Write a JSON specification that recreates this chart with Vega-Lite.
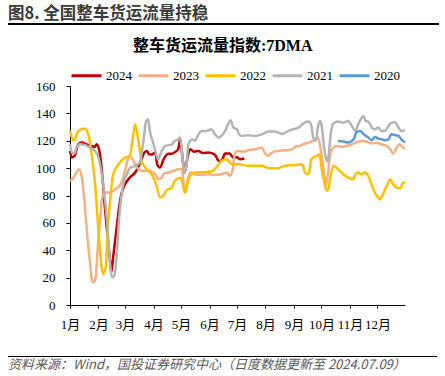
{
  "$schema": "https://vega.github.io/schema/vega-lite/v6.json",
  "background": "#ffffff",
  "padding": {"left": 8, "top": 5, "right": 5, "bottom": 0},
  "config": {
    "view": {"stroke": null},
    "axis": {"domainColor": "#000000", "tickColor": "#000000", "labelColor": "#000000", "labelFont": "Liberation Serif, Noto Sans CJK SC", "labelFontSize": 13, "grid": false}
  },
  "resolve": {"legend": {"color": "independent"}},
  "columns": 1,
  "spacing": 25,
  "align": "none",
  "concat": [
    {
      "resolve": {"legend": {"color": "independent"}},
      "columns": 1,
      "spacing": 13,
      "align": "none",
      "concat": [
        {
          "width": 431,
          "height": 2,
          "view": {"fill": "#000000", "stroke": null},
          "title": {"text": "图8. 全国整车货运流量持稳", "anchor": "start", "font": "Noto Sans CJK SC", "fontSize": 16.5, "fontWeight": "bold", "color": "#3a3a3a", "offset": 1},
          "data": {"values": []},
          "mark": {"type": "rule"},
          "encoding": {}
        },
        {
          "resolve": {"legend": {"color": "independent"}},
          "spacing": 10,
          "hconcat": [
            {
              "width": 17,
              "height": 219,
              "data": {"values": []},
              "mark": {"type": "rule"},
              "encoding": {}
            },
            {
              "width": 335,
              "height": 219,
              "title": {"text": "整车货运流量指数:7DMA", "anchor": "middle", "frame": "bounds", "font": "Liberation Serif, Noto Sans CJK SC", "fontSize": 16, "fontWeight": "bold", "color": "#000000", "offset": 5},
              "data": {"values": [
                {"year":"2024","day":1,"v":112.6},{"year":"2024","day":3,"v":107.7},{"year":"2024","day":6,"v":109},{"year":"2024","day":10,"v":117.4},{"year":"2024","day":14,"v":118.7},{"year":"2024","day":19,"v":117.4},{"year":"2024","day":25,"v":116},{"year":"2024","day":28,"v":115.5},{"year":"2024","day":30,"v":117.4},{"year":"2024","day":33,"v":112.6},{"year":"2024","day":35,"v":102.8},{"year":"2024","day":37,"v":88.2},{"year":"2024","day":39,"v":71.3},{"year":"2024","day":42,"v":49.4},{"year":"2024","day":45,"v":29.9},{"year":"2024","day":46,"v":23.8},{"year":"2024","day":48,"v":34.8},{"year":"2024","day":51,"v":51.8},{"year":"2024","day":54,"v":68.8},{"year":"2024","day":57,"v":81},{"year":"2024","day":61,"v":88.2},{"year":"2024","day":66,"v":93},{"year":"2024","day":72,"v":96.8},{"year":"2024","day":75,"v":100.4},{"year":"2024","day":79,"v":106.5},{"year":"2024","day":82,"v":111.4},{"year":"2024","day":85,"v":112.6},{"year":"2024","day":87,"v":110.1},{"year":"2024","day":90,"v":110},{"year":"2024","day":94,"v":111.4},{"year":"2024","day":96,"v":102.8},{"year":"2024","day":99,"v":100.4},{"year":"2024","day":103,"v":106.5},{"year":"2024","day":108,"v":110.5},{"year":"2024","day":112,"v":110.5},{"year":"2024","day":116,"v":112},{"year":"2024","day":119,"v":114},{"year":"2024","day":121,"v":121},{"year":"2024","day":124,"v":105},{"year":"2024","day":126,"v":96.8},{"year":"2024","day":129,"v":107.7},{"year":"2024","day":132,"v":113.8},{"year":"2024","day":136,"v":112},{"year":"2024","day":141,"v":112.6},{"year":"2024","day":146,"v":111},{"year":"2024","day":152,"v":111.4},{"year":"2024","day":159,"v":109.7},{"year":"2024","day":163,"v":105.3},{"year":"2024","day":166,"v":105.3},{"year":"2024","day":170,"v":110.6},{"year":"2024","day":175,"v":110.6},{"year":"2024","day":179,"v":107.7},{"year":"2024","day":183,"v":108},{"year":"2024","day":186,"v":106.5},{"year":"2024","day":191,"v":107},
                {"year":"2023","day":1,"v":90.7},{"year":"2023","day":5,"v":93},{"year":"2023","day":8,"v":96.8},{"year":"2023","day":11,"v":99.2},{"year":"2023","day":14,"v":93},{"year":"2023","day":17,"v":73.7},{"year":"2023","day":20,"v":49.4},{"year":"2023","day":23,"v":29.9},{"year":"2023","day":25,"v":17.8},{"year":"2023","day":27,"v":16.6},{"year":"2023","day":29,"v":20},{"year":"2023","day":31,"v":39.7},{"year":"2023","day":34,"v":64},{"year":"2023","day":36,"v":78.5},{"year":"2023","day":39,"v":82.2},{"year":"2023","day":45,"v":82.2},{"year":"2023","day":50,"v":84.6},{"year":"2023","day":55,"v":87},{"year":"2023","day":59,"v":93},{"year":"2023","day":63,"v":104},{"year":"2023","day":65,"v":109},{"year":"2023","day":68,"v":107.7},{"year":"2023","day":74,"v":100.4},{"year":"2023","day":79,"v":98},{"year":"2023","day":86,"v":98},{"year":"2023","day":94,"v":95.5},{"year":"2023","day":97,"v":91.9},{"year":"2023","day":101,"v":93},{"year":"2023","day":103,"v":96},{"year":"2023","day":108,"v":96.8},{"year":"2023","day":114,"v":98},{"year":"2023","day":119,"v":99.2},{"year":"2023","day":123,"v":99.2},{"year":"2023","day":125,"v":88.2},{"year":"2023","day":127,"v":82.2},{"year":"2023","day":129,"v":90.7},{"year":"2023","day":132,"v":96.8},{"year":"2023","day":137,"v":95.5},{"year":"2023","day":145,"v":95},{"year":"2023","day":152,"v":95.5},{"year":"2023","day":159,"v":95},{"year":"2023","day":166,"v":95.5},{"year":"2023","day":172,"v":96.8},{"year":"2023","day":175,"v":94.4},{"year":"2023","day":178,"v":98},{"year":"2023","day":181,"v":111.4},{"year":"2023","day":184,"v":112.6},{"year":"2023","day":190,"v":112},{"year":"2023","day":195,"v":113},{"year":"2023","day":203,"v":113.8},{"year":"2023","day":210,"v":115},{"year":"2023","day":213,"v":111.4},{"year":"2023","day":217,"v":109},{"year":"2023","day":221,"v":111.4},{"year":"2023","day":228,"v":112.6},{"year":"2023","day":235,"v":113},{"year":"2023","day":243,"v":113.8},{"year":"2023","day":248,"v":116.2},{"year":"2023","day":250,"v":116},{"year":"2023","day":255,"v":117.4},{"year":"2023","day":261,"v":118.7},{"year":"2023","day":266,"v":119.9},{"year":"2023","day":271,"v":122.3},{"year":"2023","day":273,"v":118},{"year":"2023","day":275,"v":110.1},{"year":"2023","day":277,"v":100.4},{"year":"2023","day":279,"v":90.7},{"year":"2023","day":280,"v":88.2},{"year":"2023","day":282,"v":95.5},{"year":"2023","day":284,"v":107.7},{"year":"2023","day":288,"v":115},{"year":"2023","day":292,"v":116.2},{"year":"2023","day":297,"v":115.5},{"year":"2023","day":302,"v":116.2},{"year":"2023","day":308,"v":117.4},{"year":"2023","day":313,"v":118.7},{"year":"2023","day":319,"v":119.9},{"year":"2023","day":324,"v":119.4},{"year":"2023","day":330,"v":118},{"year":"2023","day":335,"v":118.5},{"year":"2023","day":340,"v":117.4},{"year":"2023","day":346,"v":116.2},{"year":"2023","day":350,"v":113.8},{"year":"2023","day":353,"v":110.6},{"year":"2023","day":357,"v":115},{"year":"2023","day":360,"v":117.4},{"year":"2023","day":364,"v":115},{"year":"2023","day":366,"v":114},
                {"year":"2022","day":1,"v":127.2},{"year":"2022","day":5,"v":120},{"year":"2022","day":10,"v":127},{"year":"2022","day":17,"v":129},{"year":"2022","day":21,"v":124.7},{"year":"2022","day":24,"v":112.6},{"year":"2022","day":28,"v":90.7},{"year":"2022","day":32,"v":54.4},{"year":"2022","day":35,"v":29.9},{"year":"2022","day":37,"v":22.6},{"year":"2022","day":40,"v":27.5},{"year":"2022","day":42,"v":54.4},{"year":"2022","day":45,"v":78.5},{"year":"2022","day":48,"v":95.5},{"year":"2022","day":54,"v":102.8},{"year":"2022","day":61,"v":107.7},{"year":"2022","day":66,"v":108.5},{"year":"2022","day":70,"v":124.7},{"year":"2022","day":72,"v":132},{"year":"2022","day":75,"v":122.3},{"year":"2022","day":79,"v":105.3},{"year":"2022","day":83,"v":100.4},{"year":"2022","day":90,"v":95.5},{"year":"2022","day":95,"v":88.2},{"year":"2022","day":99,"v":78.5},{"year":"2022","day":103,"v":80},{"year":"2022","day":106,"v":83.6},{"year":"2022","day":112,"v":85.8},{"year":"2022","day":115,"v":90.7},{"year":"2022","day":121,"v":93},{"year":"2022","day":124,"v":88.2},{"year":"2022","day":126,"v":82.2},{"year":"2022","day":128,"v":87},{"year":"2022","day":132,"v":94.4},{"year":"2022","day":137,"v":96.8},{"year":"2022","day":145,"v":97},{"year":"2022","day":155,"v":97.5},{"year":"2022","day":163,"v":102.8},{"year":"2022","day":166,"v":105.3},{"year":"2022","day":172,"v":106.5},{"year":"2022","day":175,"v":104},{"year":"2022","day":179,"v":102.8},{"year":"2022","day":184,"v":103},{"year":"2022","day":195,"v":101.7},{"year":"2022","day":210,"v":101.7},{"year":"2022","day":217,"v":100},{"year":"2022","day":228,"v":100},{"year":"2022","day":235,"v":101.7},{"year":"2022","day":246,"v":102.3},{"year":"2022","day":253,"v":102.8},{"year":"2022","day":255,"v":101.7},{"year":"2022","day":257,"v":96.8},{"year":"2022","day":261,"v":95.5},{"year":"2022","day":264,"v":106.5},{"year":"2022","day":270,"v":109},{"year":"2022","day":273,"v":110.1},{"year":"2022","day":275,"v":100.4},{"year":"2022","day":277,"v":93},{"year":"2022","day":280,"v":84.6},{"year":"2022","day":282,"v":83.4},{"year":"2022","day":284,"v":90.7},{"year":"2022","day":288,"v":101.7},{"year":"2022","day":293,"v":99.2},{"year":"2022","day":299,"v":95.5},{"year":"2022","day":304,"v":93},{"year":"2022","day":310,"v":91.9},{"year":"2022","day":312,"v":95.5},{"year":"2022","day":315,"v":96.8},{"year":"2022","day":319,"v":95.5},{"year":"2022","day":322,"v":96.8},{"year":"2022","day":326,"v":94.4},{"year":"2022","day":330,"v":87},{"year":"2022","day":333,"v":82.2},{"year":"2022","day":337,"v":78.5},{"year":"2022","day":339,"v":77.3},{"year":"2022","day":342,"v":81},{"year":"2022","day":346,"v":87},{"year":"2022","day":350,"v":91.9},{"year":"2022","day":353,"v":88.2},{"year":"2022","day":357,"v":85.8},{"year":"2022","day":361,"v":85.3},{"year":"2022","day":364,"v":89.5},{"year":"2022","day":366,"v":89.5},
                {"year":"2021","day":1,"v":117.4},{"year":"2021","day":3,"v":111.4},{"year":"2021","day":6,"v":110.6},{"year":"2021","day":8,"v":115},{"year":"2021","day":12,"v":117.4},{"year":"2021","day":17,"v":117},{"year":"2021","day":23,"v":115},{"year":"2021","day":28,"v":112.6},{"year":"2021","day":32,"v":107.7},{"year":"2021","day":35,"v":98},{"year":"2021","day":38,"v":83.4},{"year":"2021","day":41,"v":64},{"year":"2021","day":43,"v":47},{"year":"2021","day":45,"v":27.5},{"year":"2021","day":47,"v":20.2},{"year":"2021","day":49,"v":21},{"year":"2021","day":52,"v":37.2},{"year":"2021","day":54,"v":59.1},{"year":"2021","day":56,"v":73.7},{"year":"2021","day":59,"v":88.2},{"year":"2021","day":63,"v":95.5},{"year":"2021","day":66,"v":100},{"year":"2021","day":72,"v":101.7},{"year":"2021","day":77,"v":104.1},{"year":"2021","day":81,"v":119.9},{"year":"2021","day":84,"v":134.5},{"year":"2021","day":86,"v":135.7},{"year":"2021","day":88,"v":127.2},{"year":"2021","day":92,"v":117.4},{"year":"2021","day":95,"v":110.1},{"year":"2021","day":97,"v":106.5},{"year":"2021","day":101,"v":112.6},{"year":"2021","day":105,"v":116.2},{"year":"2021","day":112,"v":117.4},{"year":"2021","day":115,"v":119.9},{"year":"2021","day":119,"v":121},{"year":"2021","day":121,"v":122.3},{"year":"2021","day":124,"v":105.3},{"year":"2021","day":126,"v":96.8},{"year":"2021","day":128,"v":102.8},{"year":"2021","day":130,"v":117.4},{"year":"2021","day":134,"v":121},{"year":"2021","day":137,"v":120},{"year":"2021","day":141,"v":124.7},{"year":"2021","day":144,"v":127.2},{"year":"2021","day":150,"v":127.2},{"year":"2021","day":155,"v":128.4},{"year":"2021","day":159,"v":124.7},{"year":"2021","day":163,"v":122.3},{"year":"2021","day":166,"v":123.5},{"year":"2021","day":170,"v":127.2},{"year":"2021","day":174,"v":133.2},{"year":"2021","day":176,"v":134.9},{"year":"2021","day":179,"v":129.6},{"year":"2021","day":183,"v":128.4},{"year":"2021","day":185,"v":124.7},{"year":"2021","day":188,"v":123.5},{"year":"2021","day":195,"v":124},{"year":"2021","day":203,"v":123.5},{"year":"2021","day":210,"v":124.7},{"year":"2021","day":217,"v":126.7},{"year":"2021","day":224,"v":126.7},{"year":"2021","day":232,"v":125},{"year":"2021","day":239,"v":127.2},{"year":"2021","day":244,"v":128.4},{"year":"2021","day":250,"v":129.6},{"year":"2021","day":255,"v":132.5},{"year":"2021","day":261,"v":134},{"year":"2021","day":264,"v":131},{"year":"2021","day":266,"v":122.3},{"year":"2021","day":269,"v":119.9},{"year":"2021","day":271,"v":129.6},{"year":"2021","day":273,"v":134.5},{"year":"2021","day":275,"v":132},{"year":"2021","day":277,"v":119.9},{"year":"2021","day":279,"v":110.1},{"year":"2021","day":281,"v":104.8},{"year":"2021","day":283,"v":110.1},{"year":"2021","day":285,"v":124.7},{"year":"2021","day":288,"v":132.5},{"year":"2021","day":293,"v":134},{"year":"2021","day":299,"v":133.2},{"year":"2021","day":304,"v":134.5},{"year":"2021","day":308,"v":130.8},{"year":"2021","day":312,"v":127.2},{"year":"2021","day":315,"v":132},{"year":"2021","day":319,"v":136.9},{"year":"2021","day":321,"v":138.1},{"year":"2021","day":323,"v":134.5},{"year":"2021","day":326,"v":134},{"year":"2021","day":330,"v":129.6},{"year":"2021","day":333,"v":128.4},{"year":"2021","day":337,"v":129.6},{"year":"2021","day":340,"v":127.2},{"year":"2021","day":344,"v":127.2},{"year":"2021","day":348,"v":130.8},{"year":"2021","day":351,"v":133.2},{"year":"2021","day":355,"v":133.5},{"year":"2021","day":359,"v":129.6},{"year":"2021","day":362,"v":127.2},{"year":"2021","day":366,"v":127.7},
                {"year":"2020","day":293,"v":119.9},{"year":"2020","day":299,"v":119.4},{"year":"2020","day":304,"v":118.7},{"year":"2020","day":310,"v":121},{"year":"2020","day":313,"v":126},{"year":"2020","day":317,"v":127.2},{"year":"2020","day":321,"v":124.7},{"year":"2020","day":326,"v":122.3},{"year":"2020","day":330,"v":120.4},{"year":"2020","day":333,"v":122.8},{"year":"2020","day":337,"v":121.5},{"year":"2020","day":341,"v":121},{"year":"2020","day":344,"v":120.4},{"year":"2020","day":348,"v":121},{"year":"2020","day":351,"v":124.7},{"year":"2020","day":355,"v":124.2},{"year":"2020","day":359,"v":123.5},{"year":"2020","day":362,"v":121},{"year":"2020","day":366,"v":118.7}
              ]},
              "mark": {"type": "line", "strokeWidth": 2.5, "interpolate": "monotone"},
              "encoding": {
                "x": {"field": "day", "type": "quantitative", "scale": {"domain": [1, 366], "nice": false, "zero": false},
                      "axis": {"title": null, "values": [1,32,61,92,122,153,183,214,245,275,306,336], "labelExpr": "(indexof([1,32,61,92,122,153,183,214,245,275,306,336], datum.value) + 1) + '月'", "tickSize": 3, "labelPadding": 10, "labelFlush": false, "labelOverlap": false, "labelBound": false}},
                "y": {"field": "v", "type": "quantitative", "scale": {"domain": [0, 160], "nice": false},
                      "axis": {"title": null, "values": [0,20,40,60,80,100,120,140,160], "tickSize": 4, "labelPadding": 11, "labelFlush": false}},
                "color": {"field": "year", "type": "nominal",
                          "scale": {"domain": ["2024","2023","2022","2021","2020"], "range": ["#C00000","#F4B183","#FFC000","#B4B4B4","#5B9BD5"]},
                          "legend": {"orient": "top", "direction": "horizontal", "title": null, "symbolType": "stroke", "symbolSize": 900, "symbolStrokeWidth": 3, "labelFont": "Liberation Serif", "labelFontSize": 13, "labelColor": "#000000", "labelOffset": 3, "columnPadding": 0, "offset": 3}}
              }
            }
          ]
        }
      ]
    },
    {
      "width": 429,
      "height": 1,
      "view": {"fill": "#000000", "stroke": null},
      "title": {"text": "资料来源：Wind，国投证券研究中心（日度数据更新至 2024.07.09）", "orient": "bottom", "anchor": "start", "font": "Noto Sans CJK SC", "fontSize": 13, "fontStyle": "italic", "fontWeight": "normal", "color": "#595959", "offset": 2},
      "data": {"values": []},
      "mark": {"type": "rule"},
      "encoding": {}
    }
  ]
}
